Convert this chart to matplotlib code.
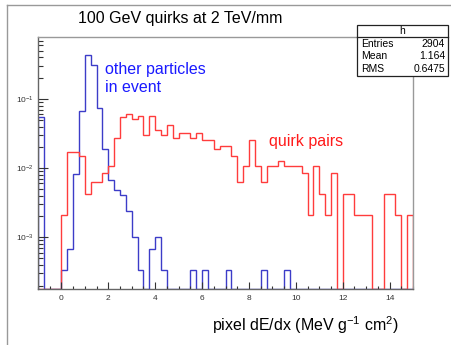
import numpy as np
import matplotlib
matplotlib.use("Agg")
import matplotlib.pyplot as plt
from matplotlib.ticker import MultipleLocator, NullFormatter, LogLocator
from matplotlib.patches import Rectangle
from matplotlib.lines import Line2D

plt.rcParams['font.family'] = ['Liberation Sans', 'DejaVu Sans']
plt.rcParams['mathtext.fontset'] = 'custom'
plt.rcParams['mathtext.rm'] = 'Liberation Sans'
plt.rcParams['mathtext.it'] = 'Liberation Sans:italic'

# histogram binning: 64 bins of 0.25 from -1 to 15
bin_lo, bin_hi, bin_w = -1.0, 15.0, 0.25

# counts per bin (log scale)
other_counts = [158, 0, 0, 0,
                1, 2, 24, 197, 1278, 922, 219, 56,
                20, 14, 12, 7, 3, 1, 0, 2,
                3, 1, 0, 0, 0, 0, 1, 0,
                1, 0, 0, 0, 1, 0, 0, 0,
                0, 0, 1, 0, 0, 0, 1, 0,
                0, 0, 0, 0, 0, 0, 0, 0,
                0, 0, 0, 0, 0, 0, 0, 0,
                0, 0, 0, 0]
quirk_counts = [0, 0, 0, 0,
                1, 8, 8, 7, 2, 3, 3, 4,
                5, 13, 26, 29, 24, 27, 14, 27,
                17, 14, 20, 13, 15, 15, 13, 15,
                12, 12, 9, 10, 10, 7, 3, 5,
                12, 5, 3, 5, 5, 6, 5, 5,
                5, 4, 1, 5, 2, 1, 4, 0,
                2, 2, 1, 1, 1, 0, 0, 2,
                2, 1, 0, 1]

stats_name = "h"
stats_rows = [("Entries", "2904"), ("Mean", "1.164"), ("RMS", "0.6475")]

title = "100 GeV quirks at 2 TeV/mm"
xlabel = r"pixel dE/dx (MeV g$^{\mathregular{-1}}$ cm$^{\mathregular{2}}$)"

ymin, ymax = 1.77e-4, 0.788

W, H = 451, 345
fig = plt.figure(figsize=(W / 100, H / 100), dpi=100)


def fx(px):
    return px / W


def fy(py):
    return 1 - py / H


ax = fig.add_axes([fx(38), fy(289.3), fx(413) - fx(38), fy(37) - fy(289.3)])

edges = np.arange(bin_lo, bin_hi + bin_w / 2, bin_w)
other = np.array(other_counts, float)
quirk = np.array(quirk_counts, float)
other = other / other.sum()
quirk = quirk / quirk.sum()
other = np.where(other > 0, other, ymin)
quirk = np.where(quirk > 0, quirk, ymin)

ax.stairs(other, edges, color='#3c3cc8', lw=1.0)
ax.stairs(quirk, edges, color='#ff3c3c', lw=1.0)

ax.set_yscale('log')
ax.set_xlim(bin_lo, bin_hi)
ax.set_ylim(ymin, ymax)

ax.xaxis.set_major_locator(MultipleLocator(2))
ax.xaxis.set_minor_locator(MultipleLocator(0.5))
ax.yaxis.set_minor_locator(LogLocator(subs=np.arange(2, 10)))
ax.yaxis.set_minor_formatter(NullFormatter())

ax.tick_params(which='both', direction='in', top=False, right=False, colors='#333')
ax.tick_params(axis='x', which='major', length=5, width=0.8, labelsize=6, pad=4)
ax.tick_params(axis='x', which='minor', length=2.5, width=0.8)
ax.tick_params(axis='y', which='major', length=7, width=0.8, labelsize=6, pad=3)
ax.tick_params(axis='y', which='minor', length=3.5, width=0.8)

for side, sp in ax.spines.items():
    sp.set_color('#666' if side in ('left', 'bottom') else '#999')
    sp.set_linewidth(1.0)

# texts
fig.text(fx(78), fy(23.3), title, fontsize=11.5, va='baseline')
fig.text(fx(105), fy(74), "other particles", fontsize=11.5, color='#1a1aff', va='baseline')
fig.text(fx(105), fy(91.7), "in event", fontsize=11.5, color='#1a1aff', va='baseline')
fig.text(fx(269), fy(146), "quirk pairs", fontsize=11.5, color='#ff1a1a', va='baseline')
fig.text(fx(212), fy(331), xlabel, fontsize=11.5, va='baseline')

# stats box
bx0, bx1, by0, by1, bsep = 357, 448, 25, 75.7, 37
fig.patches.append(Rectangle((fx(bx0), fy(by1)), fx(bx1) - fx(bx0), fy(by0) - fy(by1),
                             transform=fig.transFigure, facecolor='white',
                             edgecolor='#222', lw=0.9, zorder=5))
fig.lines.append(Line2D([fx(bx0), fx(bx1)], [fy(bsep), fy(bsep)],
                        transform=fig.transFigure, color='#222', lw=0.9, zorder=6))
fig.text(fx((bx0 + bx1) / 2), fy(31), stats_name, fontsize=7.5, ha='center', va='center', zorder=7)
for i, (k, v) in enumerate(stats_rows):
    yy = fy(44 + 12.4 * i)
    fig.text(fx(361), yy, k, fontsize=7.5, va='center', zorder=7)
    fig.text(fx(445), yy, v, fontsize=7.5, va='center', ha='right', zorder=7)

# slide border
fig.lines.append(Line2D([fx(7), fx(7)], [0, fy(5)], transform=fig.transFigure, color='#999', lw=1))
fig.lines.append(Line2D([fx(7), 1], [fy(5), fy(5)], transform=fig.transFigure, color='#999', lw=1))

fig.savefig("out.png", dpi=100)
